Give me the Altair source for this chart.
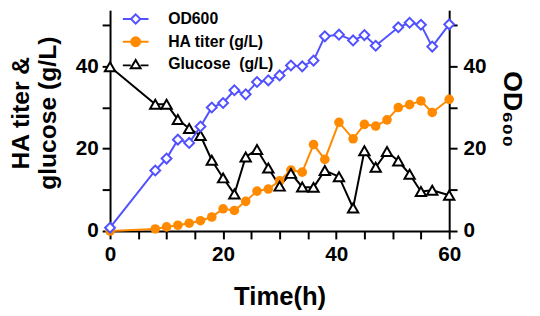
import altair as alt
import pandas as pd

# ---- data ----
names = ["OD600", "HA titer (g/L)", "Glucose\u00a0 (g/L)"]
colors = ["#5151ff", "#ff8a00", "#000000"]
fills = ["#ffffff", "#ff8a00", "#ffffff"]

t_main = [0, 8, 10, 12, 14, 16, 18, 20, 22, 24, 26, 28, 30, 32, 34, 36, 38,
          40.5, 43, 45, 47, 49, 51, 53, 55, 57, 60]
ha = [0, 0.5, 1.0, 1.4, 1.9, 2.5, 3.4, 5.4, 5.0, 7.2, 9.7, 10.2, 12.2, 14.8,
      14.3, 21.0, 17.4, 26.4, 22.4, 25.9, 25.5, 27.0, 30.0, 30.7, 31.6, 28.8, 32.0]
glucose = [39.9, 30.8, 30.8, 27.1, 24.9, 23.2, 17.2, 12.9, 9.0, 18.0, 19.8,
           15.3, 10.9, 14.0, 10.7, 10.6, 14.7, 13.2, 5.6, 19.5, 15.5, 19.3,
           17.0, 13.8, 9.6, 9.9, 8.7]

t_od = [0, 8, 10, 12, 14, 16, 18, 20, 22, 24, 26, 28, 30, 32, 34, 36, 38,
        40.5, 43, 45, 47, 51, 53, 55, 57, 60]
od = [0.8, 14.7, 17.6, 22.2, 21.4, 25.4, 30.0, 31.1, 34.2, 33.2, 36.2, 36.6,
      37.8, 40.2, 40.0, 41.4, 47.3, 47.7, 46.3, 47.6, 45.0, 49.5, 50.6, 50.1,
      44.8, 50.2]

x_ticks = list(range(0, 61, 5))
y_ticks = [0, 10, 20, 30, 40, 50]
Y_MAX = 53.65

# legend symbols: marker with line segments on both sides
legend_shapes = [
    "M-2.6,0H-0.95M0.95,0H2.6M0,-0.95L0.95,0L0,0.95L-0.95,0Z",
    "M-2.6,0H-0.9M0.9,0H2.6M-0.9,0A0.9,0.9 0 1,0 0.9,0A0.9,0.9 0 1,0 -0.9,0Z",
    "M-2.6,0.2H-1M1,0.2H2.6M0,-0.9L1,0.8L-1,0.8Z",
]

df_main = pd.DataFrame({"t": t_main, "ha": ha, "glu": glucose})
df_od = pd.DataFrame({"t": t_od, "od": od})
df_leg = pd.DataFrame({"t": [0, 0, 0], "v": [0, 0, 0], "series": names})

FONT = "Liberation Sans"

x_enc = alt.X(
    "t:Q",
    scale=alt.Scale(domain=[0, 60], nice=False, zero=False),
    axis=alt.Axis(values=x_ticks, labelExpr="datum.value % 20 == 0 ? datum.label : ''",
                  title="Time(h)", labelPadding=5, titlePadding=20, labelFlush=False),
)

left_axis = alt.Axis(orient="left", values=y_ticks,
                     labelExpr="datum.value % 20 == 0 ? datum.label : ''",
                     title=["HA titer &", "glucose (g/L)"], titlePadding=15,
                     titleLineHeight=27, titleFontSize=25, titleY=104, labelPadding=4,
                     labelFlush=False)
right_axis = alt.Axis(orient="right", values=y_ticks,
                      labelExpr="datum.value % 20 == 0 ? datum.label : ''",
                      title="OD\u2086\u2080\u2080", titlePadding=12, titleY=100,
                      titleFontSize=27, labelPadding=6, labelFlush=False)

yscale = alt.Scale(domain=[0, Y_MAX], nice=False, zero=False)

base_main = alt.Chart(df_main)

glu_line = base_main.mark_line(color=colors[2], strokeWidth=2).encode(
    x=x_enc, y=alt.Y("glu:Q", scale=yscale, axis=left_axis))
glu_pts = base_main.mark_point(shape="triangle-up", size=110, filled=True, fill="white",
                               stroke=colors[2], strokeWidth=2, opacity=1).encode(
    x=x_enc, y=alt.Y("glu:Q", scale=yscale, axis=left_axis))
ha_line = base_main.mark_line(color=colors[1], strokeWidth=2).encode(
    x=x_enc, y=alt.Y("ha:Q", scale=yscale, axis=left_axis))
ha_pts = base_main.mark_circle(size=95, color=colors[1], opacity=1).encode(
    x=x_enc, y=alt.Y("ha:Q", scale=yscale, axis=left_axis))

leg = alt.Legend(title=None, orient="none", legendX=18, legendY=1, symbolSize=100,
                 symbolStrokeWidth=2, labelFont=FONT, labelFontSize=16,
                 labelFontWeight="bold", labelColor="black", labelOffset=25,
                 rowPadding=5, padding=0, symbolOpacity=1)

legend_layer = alt.Chart(df_leg).transform_filter("datum.t < 0").mark_point(
    filled=True, strokeWidth=2).encode(
    x=x_enc,
    y=alt.Y("v:Q", scale=yscale, axis=left_axis),
    stroke=alt.Stroke("series:N", scale=alt.Scale(domain=names, range=colors), legend=leg),
    fill=alt.Fill("series:N", scale=alt.Scale(domain=names, range=fills), legend=leg),
    shape=alt.Shape("series:N", scale=alt.Scale(domain=names, range=legend_shapes), legend=leg),
)

left = alt.layer(glu_line, ha_line, ha_pts, glu_pts, legend_layer)

base_od = alt.Chart(df_od)
od_line = base_od.mark_line(color=colors[0], strokeWidth=2).encode(
    x=x_enc, y=alt.Y("od:Q", scale=yscale, axis=right_axis))
od_pts = base_od.mark_point(shape="diamond", size=100, filled=True, fill="white",
                            stroke=colors[0], strokeWidth=2, opacity=1).encode(
    x=x_enc, y=alt.Y("od:Q", scale=yscale, axis=right_axis))
right = alt.layer(od_line, od_pts)

chart = alt.layer(left, right).resolve_scale(y="independent").properties(
    width=344, height=224,
    autosize=alt.AutoSizeParams(type="none"),
    padding={"left": 103.5, "top": 0, "right": 84, "bottom": 84},
).configure_view(stroke=None).configure_axis(
    domainColor="black", domainWidth=2, tickColor="black", tickWidth=2, tickSize=8,
    labelFont=FONT, labelFontSize=21, labelFontWeight="bold", labelColor="black",
    titleFont=FONT, titleFontSize=26, titleFontWeight="bold", titleColor="black",
    grid=False,
)

chart.save("out.html", embed_options={"renderer": "svg", "actions": False})
